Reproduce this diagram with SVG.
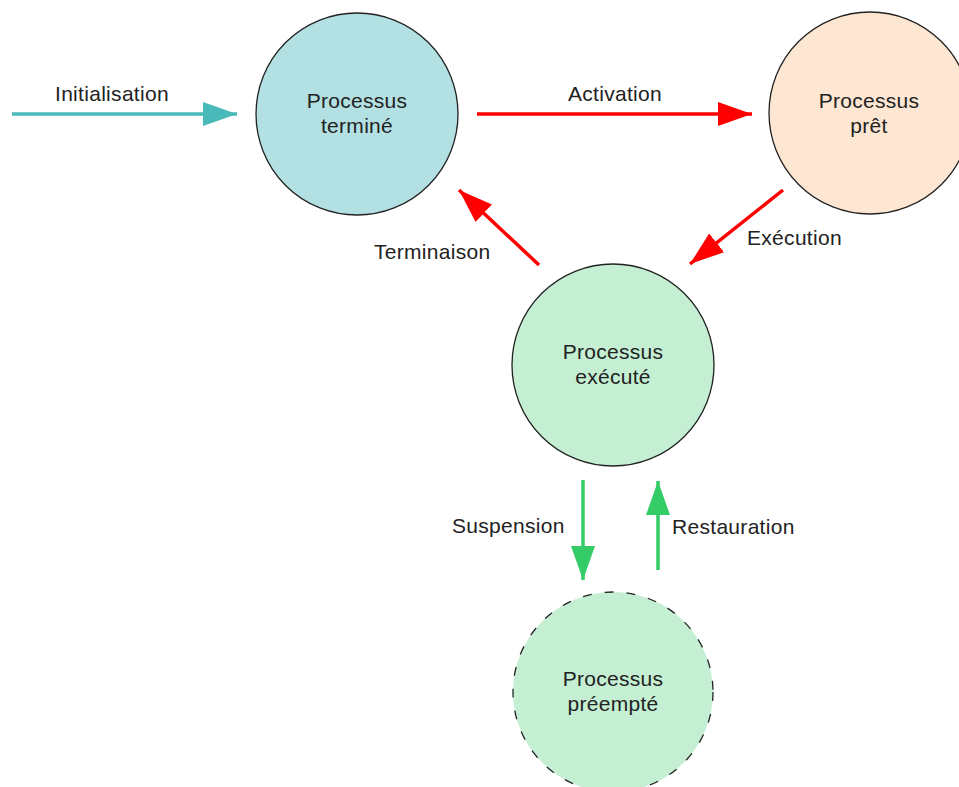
<svg xmlns="http://www.w3.org/2000/svg" width="959" height="787" viewBox="0 0 959 787">
<style>
text{font-family:"Liberation Sans",Arial,sans-serif;font-size:21px;letter-spacing:0.3px;fill:#222;}
.n text{text-anchor:middle;}
circle{stroke:#222;stroke-width:1.3;}
.red{stroke:#ff0000;stroke-width:3.5;fill:none;}
.grn{stroke:#33cc66;stroke-width:3.5;fill:none;}
.teal{stroke:#4ab9b9;stroke-width:3.5;fill:none;}
</style>
<defs>
<marker id="hr" markerUnits="userSpaceOnUse" markerWidth="34" markerHeight="26" refX="34" refY="13" orient="auto"><path d="M0,1 L34,13 L0,25 Z" fill="#ff0000"/></marker>
<marker id="hg" markerUnits="userSpaceOnUse" markerWidth="34" markerHeight="26" refX="34" refY="13" orient="auto"><path d="M0,1 L34,13 L0,25 Z" fill="#33cc66"/></marker>
<marker id="ht" markerUnits="userSpaceOnUse" markerWidth="34" markerHeight="26" refX="34" refY="13" orient="auto"><path d="M0,1 L34,13 L0,25 Z" fill="#4ab9b9"/></marker>
</defs>
<g id="connectors">
<line class="teal" x1="12" y1="114" x2="237" y2="114" marker-end="url(#ht)"/>
<line class="red" x1="477" y1="114" x2="752" y2="114" marker-end="url(#hr)"/>
<line class="red" x1="539" y1="265" x2="459" y2="190" marker-end="url(#hr)"/>
<line class="red" x1="783" y1="190" x2="690" y2="264" marker-end="url(#hr)"/>
<line class="grn" x1="583" y1="480" x2="583" y2="580" marker-end="url(#hg)"/>
<line class="grn" x1="658" y1="570" x2="658" y2="481" marker-end="url(#hg)"/>
<text x="55" y="101">Initialisation</text>
<text x="568" y="101">Activation</text>
<text x="374" y="259">Terminaison</text>
<text x="747" y="245">Exécution</text>
<text x="452" y="533">Suspension</text>
<text x="672" y="534">Restauration</text>
</g>
<g id="termine" class="n"><circle cx="357" cy="114" r="101" fill="#b3e0e2"/><text x="357" y="108">Processus</text><text x="357" y="133">terminé</text></g>
<g id="pret" class="n"><circle cx="870" cy="113" r="101" fill="#fde6d2"/><text x="869" y="108">Processus</text><text x="869" y="133">prêt</text></g>
<g id="execute" class="n"><circle cx="613" cy="365" r="101" fill="#c4efd3"/><text x="613" y="359">Processus</text><text x="613" y="384">exécuté</text></g>
<g id="preempte" class="n"><circle cx="613" cy="692" r="100" fill="#c4efd3" stroke-dasharray="9 13"/><text x="613" y="686">Processus</text><text x="613" y="711">préempté</text></g>
</svg>
